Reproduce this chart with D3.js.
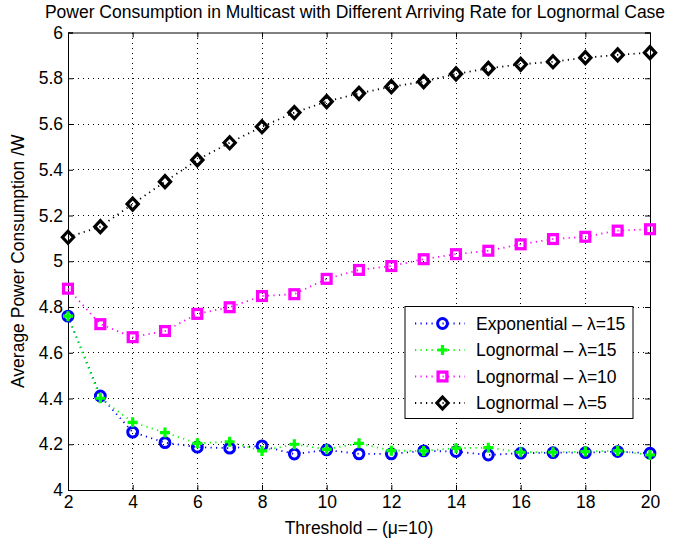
<!DOCTYPE html>
<html><head><meta charset="utf-8">
<script src="https://cdn.jsdelivr.net/npm/d3@7"></script>
<style>body{margin:0;background:#fff}svg{display:block}text{font-family:"Liberation Sans",Arial,sans-serif}</style>
</head><body><svg id="c" width="675" height="540"></svg>
<script>
const thresholds = [2,3,4,5,6,7,8,9,10,11,12,13,14,15,16,17,18,19,20];
const expLambda15 = [4.76,4.411,4.253,4.207,4.187,4.183,4.193,4.157,4.175,4.158,4.158,4.171,4.168,4.153,4.161,4.163,4.163,4.168,4.161];
const logLambda15 = [4.76,4.401,4.296,4.251,4.204,4.211,4.171,4.200,4.178,4.204,4.172,4.171,4.183,4.185,4.165,4.165,4.168,4.171,4.153];
const logLambda10 = [4.88,4.725,4.668,4.695,4.770,4.799,4.848,4.856,4.923,4.962,4.979,5.009,5.031,5.046,5.074,5.097,5.107,5.134,5.140];
const logLambda5 = [5.105,5.151,5.250,5.348,5.443,5.518,5.588,5.650,5.698,5.734,5.763,5.785,5.819,5.843,5.861,5.872,5.890,5.902,5.912];
const xTicks = [2,4,6,8,10,12,14,16,18,20];
const yTicks = [4,4.2,4.4,4.6,4.8,5,5.2,5.4,5.6,5.8,6];
const seriesNames = ["Exponential \u2013 \u03bb=15","Lognormal \u2013 \u03bb=15","Lognormal \u2013 \u03bb=10","Lognormal \u2013 \u03bb=5"];
const seriesColors = ["#0000ff","#00ff00","#ff00ff","#000000"];
const seriesMarkers = ["circle","plus","square","diamond"];
const seriesData = [expLambda15, logLambda15, logLambda10, logLambda5];

const FS = 17.5;
const svg = d3.select("#c");
const L=68, R=650, T=32.5, B=490;
const x = d3.scaleLinear().domain([2,20]).range([L,R]);
const y = d3.scaleLinear().domain([4,6]).range([B,T]);

// grid
const g = svg.append("g");
g.selectAll(".gx").data(xTicks.slice(1,-1)).join("line")
  .attr("x1",d=>x(d)).attr("x2",d=>x(d)).attr("y1",T).attr("y2",B)
  .attr("stroke","#000").attr("stroke-width",1).attr("stroke-dasharray","1,4").attr("shape-rendering","crispEdges");
g.selectAll(".gy").data(yTicks.slice(1,-1)).join("line")
  .attr("y1",d=>y(d)).attr("y2",d=>y(d)).attr("x1",L).attr("x2",R)
  .attr("stroke","#000").attr("stroke-width",1).attr("stroke-dasharray","1,4").attr("shape-rendering","crispEdges");

// axes
const fmt = d=>d3.format("")(+d.toFixed(1));
const ax = svg.append("g").attr("transform",`translate(0,${B})`)
  .call(d3.axisBottom(x).tickValues(xTicks).tickSize(-5).tickPadding(6).tickFormat(fmt));
const axT = svg.append("g").attr("transform",`translate(0,${T})`)
  .call(d3.axisTop(x).tickValues(xTicks).tickSize(-5).tickFormat(""));
const ay = svg.append("g").attr("transform",`translate(${L},0)`)
  .call(d3.axisLeft(y).tickValues(yTicks).tickSize(-5).tickPadding(5).tickFormat(fmt));
const ayR = svg.append("g").attr("transform",`translate(${R},0)`)
  .call(d3.axisRight(y).tickValues(yTicks).tickSize(-5).tickFormat(""));
[ax,axT,ay,ayR].forEach(a=>{
  a.selectAll("path").attr("stroke","#000").attr("stroke-width",1);
  a.selectAll("line").attr("stroke","#000");
  a.selectAll("text").attr("font-size",FS).attr("fill","#000").attr("font-family","Liberation Sans, Arial, sans-serif");
});

// series
const line = d3.line().x((d,i)=>x(thresholds[i])).y(d=>y(d));
function marker(sel, type, color){
  if(type==="circle") sel.append("circle").attr("r",4.9).attr("fill","none").attr("stroke",color).attr("stroke-width",3);
  else if(type==="square") sel.append("rect").attr("x",-4.4).attr("y",-4.4).attr("width",8.8).attr("height",8.8).attr("fill","none").attr("stroke",color).attr("stroke-width",3.3);
  else if(type==="diamond") sel.append("path").attr("d","M0,-6L5.6,0L0,6L-5.6,0Z").attr("fill","none").attr("stroke",color).attr("stroke-width",3.2);
  else if(type==="plus") sel.append("path").attr("d","M-5,0H5M0,-5V5").attr("fill","none").attr("stroke",color).attr("stroke-width",3.2);
}
seriesData.forEach((vals,k)=>{
  svg.append("path").attr("d",line(vals)).attr("fill","none").attr("stroke",seriesColors[k])
    .attr("stroke-width",1.8).attr("stroke-dasharray","1.2,4.3");
});
seriesData.forEach((vals,k)=>{
  svg.append("g").selectAll("g").data(vals).join("g")
    .attr("transform",(d,i)=>`translate(${x(thresholds[i])},${y(d)})`)
    .each(function(){ marker(d3.select(this), seriesMarkers[k], seriesColors[k]); });
});

// legend
const lg = svg.append("g");
const lx0=405, ly0=306.5, lw=228, lh=112;
lg.append("rect").attr("x",lx0).attr("y",ly0).attr("width",lw).attr("height",lh).attr("fill","#fff").attr("stroke","#000").attr("stroke-width",1);
seriesNames.forEach((n,k)=>{
  const yy = ly0+17+k*26.5;
  lg.append("line").attr("x1",lx0+10).attr("x2",lx0+60).attr("y1",yy).attr("y2",yy)
    .attr("stroke",seriesColors[k]).attr("stroke-width",1.8).attr("stroke-dasharray","1.2,4.3");
  marker(lg.append("g").attr("transform",`translate(${lx0+37.5},${yy})`), seriesMarkers[k], seriesColors[k]);
  lg.append("text").attr("x",lx0+71).attr("y",yy).attr("dy","0.36em").attr("font-size",FS).text(n);
});

// labels
svg.append("text").attr("x",355).attr("y",18).attr("text-anchor","middle").attr("font-size",FS).text("Power Consumption in Multicast with Different Arriving Rate for Lognormal Case");
svg.append("text").attr("x",(L+R)/2).attr("y",534).attr("text-anchor","middle").attr("font-size",FS).text("Threshold \u2013 (\u03bc=10)");
svg.append("text").attr("transform",`translate(24,${(T+B)/2}) rotate(-90)`).attr("text-anchor","middle").attr("font-size",FS).text("Average Power Consumption /W");
</script></body></html>
